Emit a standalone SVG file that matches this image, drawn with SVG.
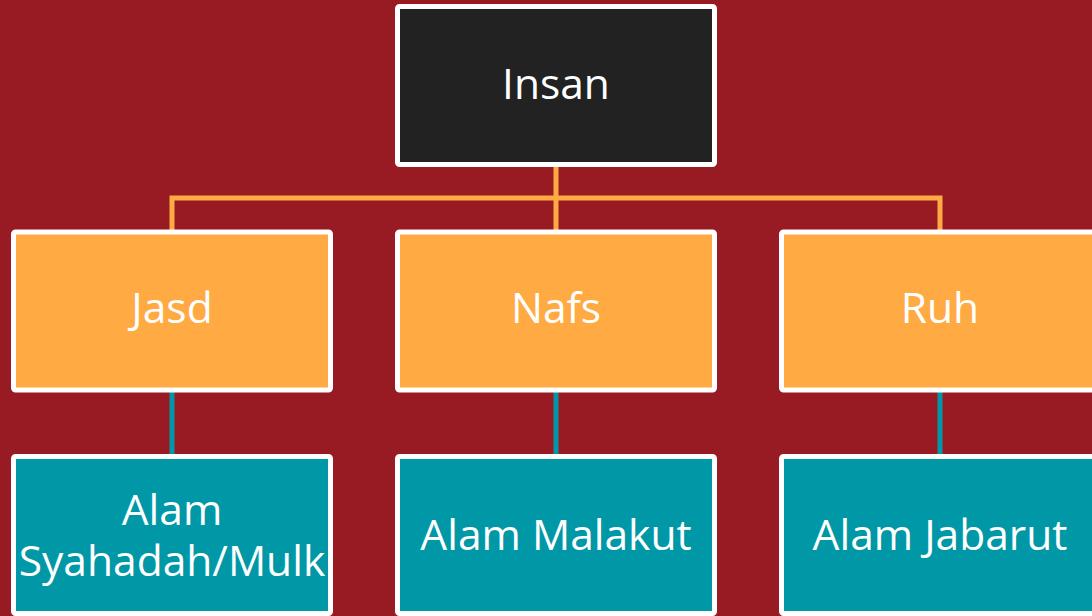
<svg xmlns="http://www.w3.org/2000/svg" width="1092" height="616" viewBox="0 0 1092 616">
<style>
.box{stroke:#ffffff;stroke-width:5}
.dark{fill:#222222}
.org{fill:#FFAA42}
.teal{fill:#0097A7}
.t{font-family:"Open Sans","Noto Sans",sans-serif;font-size:42.5px;fill:#ffffff;text-anchor:middle}
.co{stroke:#FFAA42;stroke-width:5;fill:none}
.ct{stroke:#0097A7;stroke-width:5;fill:none}
</style>
<rect width="1092" height="616" fill="#981A22"/>
<g id="connectors">
<path class="co" d="M556 167V198M172 232V198H940V232M556 198V232"/>
<path class="ct" d="M172 392V456M556 392V456M940 392V456"/>
</g>
<g id="insan"><rect class="box dark" x="397.5" y="6.5" width="317" height="158" rx="2"/><text class="t" x="556" y="99">Insan</text></g>
<g id="jasd"><rect class="box org" x="13.5" y="232" width="317" height="158" rx="2"/><text class="t" x="172" y="323">Jasd</text></g>
<g id="nafs"><rect class="box org" x="397.5" y="232" width="317" height="158" rx="2"/><text class="t" x="556" y="323">Nafs</text></g>
<g id="ruh"><rect class="box org" x="781.5" y="232" width="317" height="158" rx="2"/><text class="t" x="940" y="323">Ruh</text></g>
<g id="mulk"><rect class="box teal" x="13.5" y="456.5" width="317" height="157" rx="2"/><text class="t" x="172" y="525">Alam</text><text class="t" x="172" y="576">Syahadah/Mulk</text></g>
<g id="malakut"><rect class="box teal" x="397.5" y="456.5" width="317" height="157" rx="2"/><text class="t" x="556" y="550">Alam Malakut</text></g>
<g id="jabarut"><rect class="box teal" x="781.5" y="456.5" width="317" height="157" rx="2"/><text class="t" x="940" y="550">Alam Jabarut</text></g>
</svg>
